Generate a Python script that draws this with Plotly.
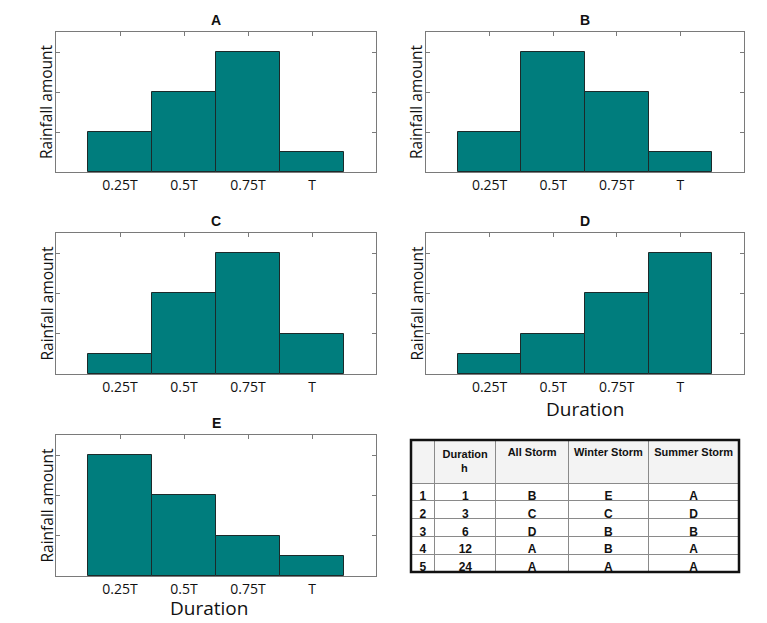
import plotly.graph_objects as go

W, H = 767, 623

durations = ["0.25T", "0.5T", "0.75T", "T"]
pattern_names = ["A", "B", "C", "D", "E"]
pattern_A = [1, 2, 3, 0.5]
pattern_B = [1, 3, 2, 0.5]
pattern_C = [0.5, 2, 3, 1]
pattern_D = [0.5, 1, 2, 3]
pattern_E = [3, 2, 1, 0.5]
patterns = [pattern_A, pattern_B, pattern_C, pattern_D, pattern_E]

NB = "\u00a0"
table_header = ["", "Duration<br>" + NB * 6 + "h", "All" + NB + "Storm",
                "Winter" + NB + "Storm", "Summer" + NB + "Storm"]
row_index = ["1", "2", "3", "4", "5"]
duration_h = ["1", "3", "6", "12", "24"]
all_storm = ["B", "C", "D", "A", "A"]
winter_storm = ["E", "C", "B", "B", "A"]
summer_storm = ["A", "D", "B", "A", "A"]

# panel boxes in pixels: (x0, x1, ytop, ybottom)
boxes = [
    (56, 376, 32, 172),
    (426, 744, 32, 172),
    (56, 376, 233, 374),
    (426, 744, 233, 374),
    (56, 376, 435, 576),
]

def px(x):
    return x / W

def py(y):
    return 1 - y / H

TEAL = "#007d7d"
AXC = "#7a7a7a"
FONT = "Open Sans"

fig = go.Figure()
annotations = []

for i, (vals, name, box) in enumerate(zip(patterns, pattern_names, boxes)):
    x0, x1, yt, yb = box
    k = "" if i == 0 else str(i + 1)
    fig.add_trace(go.Bar(
        x=durations, y=vals, width=1,
        marker=dict(color=TEAL, line=dict(color="#1c2a2a", width=1)),
        xaxis="x" + k, yaxis="y" + k, showlegend=False,
        hoverinfo="x+y",
    ))
    fig.layout["xaxis" + k] = dict(
        domain=[px(x0), px(x1)], anchor="y" + k, range=[-1, 4],
        type="category", showgrid=False, zeroline=False,
        showline=True, linecolor=AXC, linewidth=1, mirror="ticks",
        ticks="inside", ticklen=4, tickcolor=AXC,
        tickfont=dict(family=FONT, size=14, color="#111"),
        layer="below traces", fixedrange=True,
    )
    fig.layout["yaxis" + k] = dict(
        domain=[py(yb), py(yt)], anchor="x" + k, range=[0, 3.5],
        tickvals=[1, 2, 3], showticklabels=False,
        showgrid=False, zeroline=False,
        showline=True, linecolor=AXC, linewidth=1, mirror="ticks",
        ticks="inside", ticklen=4, tickcolor=AXC,
        layer="below traces", fixedrange=True,
    )
    annotations.append(dict(
        text=name, xref="paper", yref="paper",
        x=px((x0 + x1) / 2), y=py(yt - 12), showarrow=False,
        font=dict(family="Liberation Sans", size=14, color="#111", weight="bold"),
        xanchor="center", yanchor="middle",
    ))
    annotations.append(dict(
        text="Rainfall amount", xref="paper", yref="paper",
        x=px(x0 - 10), y=py((yt + yb) / 2), showarrow=False, textangle=-90,
        font=dict(family=FONT, size=15.5, color="#111"),
        xanchor="center", yanchor="middle",
    ))

# x-axis titles for D and E
annotations.append(dict(
    text="Duration", xref="paper", yref="paper", x=px(585), y=py(409),
    showarrow=False, font=dict(family=FONT, size=19, color="#111"),
    xanchor="center", yanchor="middle",
))
annotations.append(dict(
    text="Duration", xref="paper", yref="paper", x=px(209), y=py(608),
    showarrow=False, font=dict(family=FONT, size=19, color="#111"),
    xanchor="center", yanchor="middle",
))

# table
tx0, tx1, ty0, ty1 = 411, 739, 440, 572
TFONT = "Liberation Sans, Arial, sans-serif"
fig.add_trace(go.Table(
    domain=dict(x=[px(tx0), px(tx1)], y=[py(ty1 + 4), py(ty0)]),
    columnwidth=[24, 61, 73, 80, 91],
    header=dict(
        values=table_header,
        fill_color="#f3f3f3",
        line=dict(color="#8a8a8a", width=1),
        align="center", height=43,
        font=dict(family=TFONT, size=11, color="#111", weight="bold"),
    ),
    cells=dict(
        values=[row_index, duration_h, all_storm, winter_storm, summer_storm],
        fill_color="white",
        line=dict(color="#8a8a8a", width=1),
        align="center", height=17.8,
        font=dict(family=TFONT, size=12, color="#111", weight="bold"),
    ),
))

shapes = [dict(
    type="rect", xref="paper", yref="paper",
    x0=px(tx0), x1=px(tx1), y0=py(ty1), y1=py(ty0),
    line=dict(color="#111", width=2.5), fillcolor="rgba(0,0,0,0)",
)]

fig.update_layout(
    width=W, height=H,
    margin=dict(l=0, r=0, t=0, b=0),
    paper_bgcolor="white", plot_bgcolor="white",
    showlegend=False, bargap=0,
    annotations=annotations, shapes=shapes,
)

fig.write_html(
    "out.html",
    config={"displayModeBar": False},
    post_script="document.body.style.margin='0';document.body.style.overflow='hidden';",
)
